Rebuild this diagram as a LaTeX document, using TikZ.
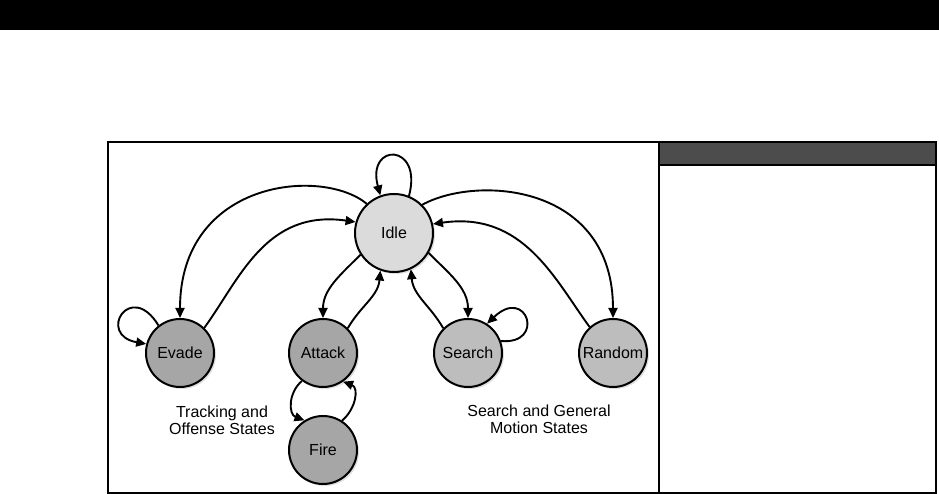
\documentclass[tikz,border=0pt]{standalone}
\usepackage{fontspec}
\setmainfont{Liberation Sans}
\usetikzlibrary{positioning,arrows.meta,shadows}

\begin{document}
\begin{tikzpicture}[
        x=1pt, y=1pt,
        node distance=27pt and 73pt, % gaps between the state circles
        state/.style={circle, draw, line width=2pt, minimum size=68pt, inner sep=0pt,
            font=\fontsize{16}{17}\selectfont,
            drop shadow={shadow xshift=2pt, shadow yshift=-2pt, opacity=0.25}},
        idlestate/.style={state, minimum size=78pt, fill=gray!28},
        trackstate/.style={state, fill=gray!70},
        motionstate/.style={state, fill=gray!52},
        group/.style={align=center, font=\fontsize{16}{17}\selectfont},
        link/.style={line width=1.9pt, -{Triangle[length=10pt,width=9pt]}}
    ]
    \useasboundingbox (0,0) rectangle (939,494);

    % Frame and side panel
    \fill[black] (0,464) rectangle (939,494);
    \draw[line width=1.2pt] (108,1) rectangle (659,352);
    \draw[line width=1.2pt, fill=white] (659,1) rectangle (936,352);
    \draw[line width=1.2pt, fill=black!70] (659,329) rectangle (936,352);

    % Nodes
    \node[idlestate] (idle) at (394,261) {Idle};
    \node[trackstate] (evade) at (180,141) {Evade};
    \node[trackstate, right=of evade] (attack) {Attack};
    \node[motionstate, right=75pt of attack] (search) {Search};
    \node[motionstate, right=75pt of search] (random) {Random};
    \node[trackstate, below=of attack] (fire) {Fire};

    \node[group] (track) at (222,74) {Tracking and\\ Offense States};
    \node[group] (motion) at (539,75) {Search and General\\ Motion States};

    % Edges
    \draw[link] (idle.68) .. controls +(75:55pt) and +(105:55pt) .. (idle.110);
    \draw[link] (idle.133) .. controls +(-45,37) and +(0,138) .. (evade.north);
    \draw[link] (evade.46) .. controls +(35,48) and +(-90,13) .. (idle.164);
    \draw[link] (evade.128) .. controls +(-28,46) and +(-50,9) .. (evade.165);

    \draw[link] (idle.213) to[out=225, in=90] (attack.north);
    \draw[link] (attack.45) to[out=60, in=265] (idle.250);
    \draw[link] (attack.233) .. controls +(-14,-12) and +(-16,6) .. (fire.122);
    \draw[link] (fire.57) .. controls +(14,12) and +(16,-6) .. (attack.305);

    \draw[link] (idle.330) to[out=-45, in=90] (search.north);
    \draw[link] (search.135) to[out=120, in=275] (idle.295);
    \draw[link] (search.20) .. controls +(45,-4) and +(40,38) .. (search.57);

    \draw[link] (idle.45) .. controls +(55,30) and +(0,134) .. (random.north);
    \draw[link] (random.132) .. controls +(-35,48) and +(90,13) .. (idle.13);

\end{tikzpicture}
\end{document}
